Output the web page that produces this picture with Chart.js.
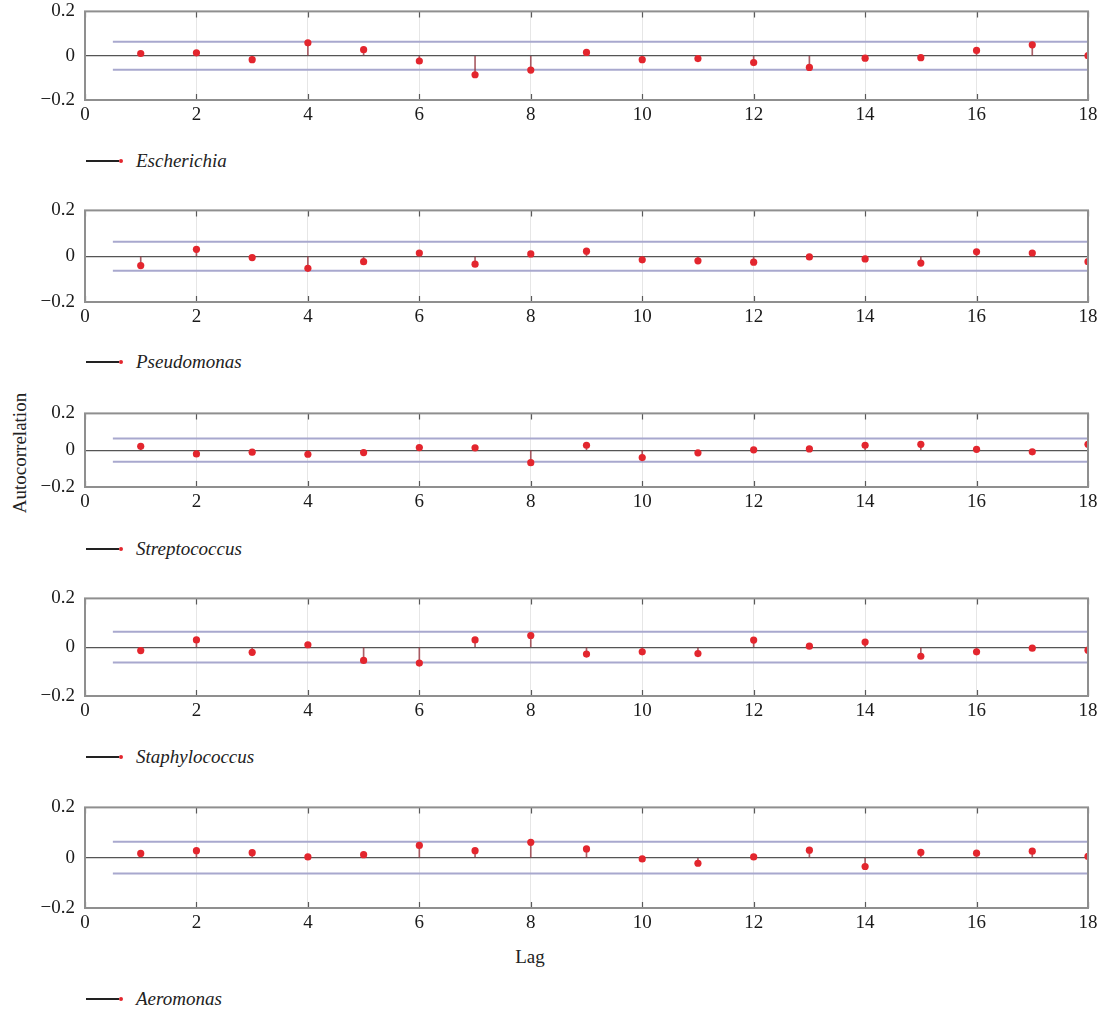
<!DOCTYPE html>
<html>
<head>
<meta charset="utf-8">
<script src="https://cdn.jsdelivr.net/npm/chart.js@4.4.0/dist/chart.umd.min.js"></script>
<style>
	body{margin:0;background:#fff;font-family:"Liberation Serif","DejaVu Serif",serif;}
	#page{position:relative;width:1103px;height:1011px;overflow:hidden;}
	#page canvas{position:absolute;left:0;}
	.legend{position:absolute;left:86px;height:24px;display:flex;align-items:center;font-style:italic;font-size:19px;color:#222;}
	.legend .ln{width:33px;height:1.5px;background:#222;}
	.legend .dt{width:4px;height:4px;border-radius:50%;background:#e3262e;margin-right:13px;}
	.axtitle{position:absolute;font-size:19px;color:#222;white-space:nowrap;}
</style>
</head>
<body>
<div id="page">
	<div class="axtitle" style="left:530px;top:957px;transform:translate(-50%,-50%);">Lag</div>
	<div class="axtitle" style="left:20px;top:453px;transform:translate(-50%,-50%) rotate(-90deg);">Autocorrelation</div>
</div>
<script>
/* data: lag 0 .. 18 */
var lags = [0,1,2,3,4,5,6,7,8,9,10,11,12,13,14,15,16,17,18];
var xTicks = [0,2,4,6,8,10,12,14,16,18];
var yTicks = [-0.2,0,0.2];
var confBound = 0.063;

var escherichia    = [1, 0.010, 0.013,-0.018, 0.058, 0.027,-0.024,-0.086,-0.065, 0.015,-0.018,-0.013,-0.031,-0.053,-0.011,-0.009, 0.024, 0.049, 0.000];
var pseudomonas    = [1,-0.041, 0.030,-0.006,-0.053,-0.024, 0.014,-0.035, 0.010, 0.022,-0.016,-0.020,-0.026,-0.003,-0.012,-0.030, 0.019, 0.014,-0.024];
var streptococcus  = [1, 0.021,-0.020,-0.011,-0.022,-0.013, 0.014, 0.013,-0.068, 0.027,-0.040,-0.014, 0.002, 0.007, 0.027, 0.032, 0.005,-0.009, 0.032];
var staphylococcus = [1,-0.014, 0.030,-0.021, 0.010,-0.054,-0.065, 0.030, 0.048,-0.028,-0.019,-0.026, 0.029, 0.004, 0.021,-0.037,-0.019,-0.004,-0.012];
var aeromonas      = [1, 0.017, 0.028, 0.020, 0.003, 0.012, 0.049, 0.028, 0.061, 0.035,-0.005,-0.022, 0.003, 0.030,-0.035, 0.021, 0.018, 0.026, 0.005];

var names = ["Escherichia","Pseudomonas","Streptococcus","Staphylococcus","Aeromonas"];
var series = [escherichia, pseudomonas, streptococcus, staphylococcus, aeromonas];

// layout of each panel: plot top, plot height, legend centre
var plotTops = [11, 210, 413, 598, 807];
var plotHeights = [90, 93, 75, 99, 102];
var legendYs = [161, 362, 549, 757, 999];

var xAxisH = 33;

/* frame around the plot + small inner tick marks */
var framePlugin = {
	id: 'frame',
	afterDraw: function(chart){
		var a = chart.chartArea, c = chart.ctx, xs = chart.scales.x;
		c.save();
		c.strokeStyle = '#5a5a5a';
		c.lineWidth = 1.2;
		xTicks.forEach(function(t){
			var px = Math.round(xs.getPixelForValue(t)) + 0.5;
			c.beginPath();
			c.moveTo(px, a.top); c.lineTo(px, a.top + 6);
			c.moveTo(px, a.bottom); c.lineTo(px, a.bottom - 6);
			c.stroke();
		});
		c.strokeStyle = '#8f8f8f';
		c.lineWidth = 2;
		c.strokeRect(a.left, a.top, a.right - a.left, a.bottom - a.top);
		c.restore();
	}
};

function fmt(v){
	v = Math.round(v * 10) / 10;
	if(v < 0) return '\u2212' + (-v);
	return String(v);
}

var page = document.getElementById('page');

series.forEach(function(vals, i){
	var canvas = document.createElement('canvas');
	var h = 20 + plotHeights[i] + xAxisH;
	canvas.width = 1103;
	canvas.height = h;
	canvas.style.width = '1103px';
	canvas.style.height = h + 'px';
	page.appendChild(canvas);

	var stems = lags.map(function(l, k){ return {x: l, y: vals[k]}; });
	var dots = lags.slice(1).map(function(l, k){ return {x: l, y: vals[k + 1]}; });

	var chart = new Chart(canvas.getContext('2d'), {
		type: 'bar',
		data: {
			datasets: [
				{
					type: 'line',
					data: [{x: 0.5, y: confBound}, {x: 18, y: confBound}],
					borderColor: 'rgb(168,168,206)',
					borderWidth: 2,
					pointRadius: 0,
					order: 3
				},
				{
					type: 'line',
					data: [{x: 0.5, y: -confBound}, {x: 18, y: -confBound}],
					borderColor: 'rgb(168,168,206)',
					borderWidth: 2,
					pointRadius: 0,
					order: 3
				},
				{
					type: 'bar',
					data: stems,
					backgroundColor: 'rgba(150,55,65,0.8)',
					barThickness: 1,
					order: 2
				},
				{
					type: 'scatter',
					data: dots,
					backgroundColor: '#e3262e',
					borderWidth: 0,
					pointRadius: 3.6,
					order: 1
				}
			]
		},
		options: {
			responsive: false,
			animation: false,
			events: [],
			layout: {padding: {top: 0, right: 15, left: 0, bottom: 0}},
			plugins: {legend: {display: false}, tooltip: {enabled: false}},
			scales: {
				x: {
					type: 'linear',
					min: 0, max: 18,
					offset: false,
					afterBuildTicks: function(s){ s.ticks = xTicks.map(function(v){ return {value: v}; }); },
					afterFit: function(s){ s.height = xAxisH; },
					grid: {offset: false, drawTicks: false, color: '#e6e6e6', lineWidth: 1},
					border: {display: false},
					ticks: {padding: 4, color: '#1a1a1a', font: {family: 'Liberation Serif', size: 19}, maxRotation: 0}
				},
				y: {
					min: -0.2, max: 0.2,
					afterBuildTicks: function(s){ s.ticks = yTicks.map(function(v){ return {value: v}; }); },
					afterFit: function(s){ s.width = 85; },
					grid: {
						drawTicks: false,
						lineWidth: 1.2,
						color: function(ctx){ return (ctx.tick && Math.abs(ctx.tick.value) < 1e-9) ? '#555' : 'rgba(0,0,0,0)'; }
					},
					border: {display: false},
					ticks: {padding: 10, color: '#1a1a1a', font: {family: 'Liberation Serif', size: 19}, callback: fmt}
				}
			}
		},
		plugins: [framePlugin]
	});

	// fit canvas so the plot area lands on the reference position
	var topOff = chart.chartArea.top;
	var botOff = h - chart.chartArea.bottom;
	var newH = Math.round(topOff + plotHeights[i] + botOff);
	chart.resize(1103, newH);
	canvas.style.top = Math.round(plotTops[i] - chart.chartArea.top) + 'px';

	var lg = document.createElement('div');
	lg.className = 'legend';
	lg.style.top = (legendYs[i] - 12) + 'px';
	lg.innerHTML = '<span class="ln"></span><span class="dt"></span><span>' + names[i] + '</span>';
	page.appendChild(lg);
});
</script>
</body>
</html>
